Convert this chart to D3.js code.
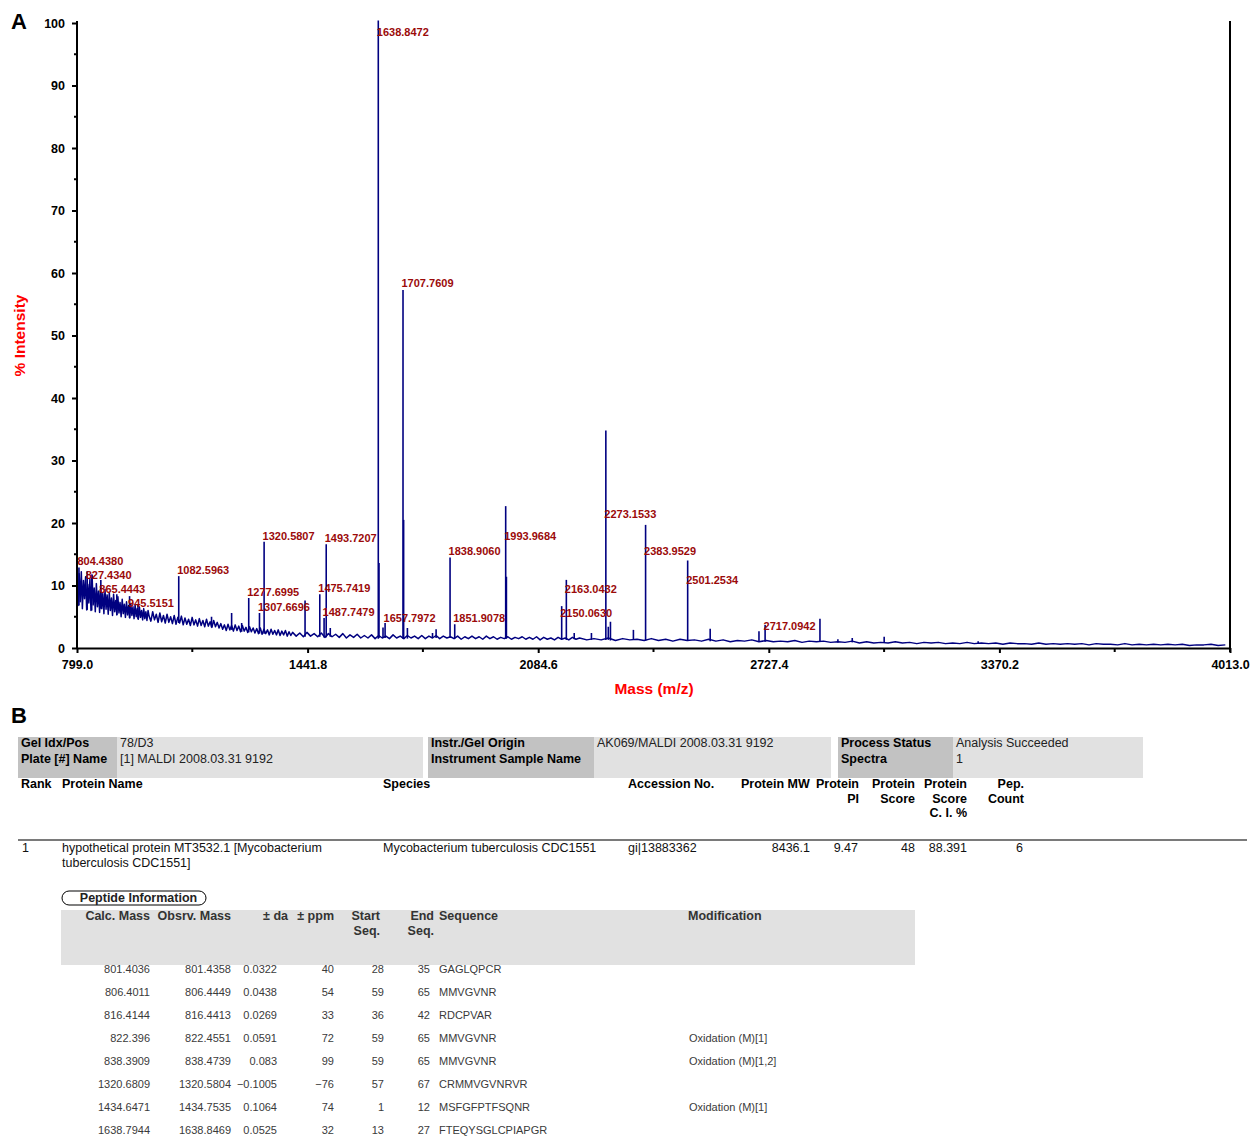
<!DOCTYPE html>
<html>
<head>
<meta charset="utf-8">
<script src="https://cdn.jsdelivr.net/npm/d3@7"></script>
<style>
  body { margin: 0; background: #fff; }
  svg text { font-family: "Liberation Sans", Arial, sans-serif; }
</style>
</head>
<body>
<div id="chart"></div>
<script>
// ---- spectrum: baseline samples (start mass, sampling step, % intensity) ----
const baseLowStart = 799, baseLowStep = 3;
const baseLow = [9.5, 6.8, 11.9, 7.4, 12.2, 6.3, 10.8, 7.9, 11.4, 6.1, 10.2, 7.2, 11.0, 6.0, 11.7, 6.9, 9.6, 5.8, 10.3, 6.6,
  9.1, 5.7, 10.0, 6.3, 8.7, 5.5, 9.4, 6.2, 8.5, 5.4, 8.9, 6.0, 8.0, 5.2, 8.6, 5.8, 7.6, 5.3, 8.2, 5.6,
  7.3, 5.0, 7.8, 5.5, 7.0, 4.9, 7.4, 5.3, 6.8, 4.8, 7.1, 5.2, 6.6, 4.7, 6.9, 5.0, 6.3, 4.6, 6.6, 4.9,
  6.0, 4.5, 6.3, 4.7, 5.8, 4.4, 6.0];
const baseMidStart = 1000, baseMidStep = 5;
const baseMid = [5.1, 4.3, 5.8, 4.5, 5.4, 4.1, 5.6, 4.2, 5.2, 4.0, 5.4, 4.1, 5.0, 3.9, 5.2, 3.8, 4.9, 4.0, 5.1, 3.7,
  4.8, 3.8, 4.6, 3.6, 4.9, 3.7, 4.5, 3.5, 4.7, 3.6, 4.4, 3.4, 4.6, 3.5, 4.2, 3.3, 4.4, 3.4, 4.1, 3.2,
  3.9, 3.0, 3.7, 2.8, 3.8, 2.9, 3.6, 2.7, 3.7, 2.8, 3.5, 2.6, 3.6, 2.7, 3.3, 2.5, 3.4, 2.6, 3.2, 2.4,
  3.1, 2.3, 3.2, 2.2, 3.0, 2.3, 2.9, 2.1, 3.0, 2.2, 2.8, 2.1, 2.9, 2.0, 2.7, 2.1, 2.8, 1.9, 2.6, 2.0];
const baseHighStart = 1400, baseHighStep = 10;
const baseHigh = [2.5, 1.9, 2.4, 1.8, 2.5, 1.9, 2.3, 1.8, 2.4, 1.7, 2.3, 1.8, 2.2, 1.7, 2.3, 1.6, 2.1, 1.7, 2.2, 1.6,
  2.0, 1.6, 2.1, 1.5, 2.0, 1.6, 1.9, 1.5, 2.1, 1.6, 1.9, 1.5, 2.0, 1.6, 1.9, 1.5, 2.0, 1.5, 1.9, 1.6,
  2.0, 1.5, 1.9, 1.6, 1.8, 1.5, 1.9, 1.4, 1.8, 1.5, 1.9, 1.5, 1.8, 1.4, 1.9, 1.5, 1.8, 1.4, 1.7, 1.5,
  1.8, 1.4, 1.7, 1.5, 1.8, 1.4, 1.7, 1.4, 1.8, 1.3, 1.7, 1.4, 1.6, 1.3, 1.7, 1.4, 1.6, 1.3, 1.7, 1.4];
const baseTailStart = 2200, baseTailStep = 20;
const baseTail = [1.6, 1.3, 1.5, 1.3, 1.6, 1.2, 1.5, 1.3, 1.4, 1.2, 1.5, 1.2, 1.4, 1.1, 1.4, 1.2, 1.3, 1.1, 1.4, 1.1,
  1.3, 1.0, 1.2, 1.1, 1.3, 1.0, 1.2, 1.0, 1.1, 1.0, 1.2, 0.9, 1.1, 1.0, 1.1, 0.9, 1.0, 0.9, 1.1, 0.8,
  1.0, 0.8, 0.9, 0.8, 1.0, 0.8, 0.9, 0.7, 0.9, 0.8, 0.9, 0.7, 0.8, 0.7, 0.9, 0.7, 0.8, 0.7, 0.8, 0.6,
  0.8, 0.7, 0.7, 0.6, 0.8, 0.6, 0.7, 0.6, 0.7, 0.6, 0.7, 0.5, 0.7, 0.6, 0.6, 0.5, 0.7, 0.5, 0.6, 0.5,
  0.6, 0.5, 0.6, 0.5, 0.6, 0.4, 0.5, 0.5, 0.6, 0.4, 0.5];

// labelled peaks: m/z, apex height (%), level where its label sits (%)
const labelMass = [804.4380, 827.4340, 865.4443, 945.5151, 1082.5963, 1277.6995, 1307.6696, 1320.5807,
  1475.7419, 1487.7479, 1493.7207, 1638.8472, 1657.7972, 1707.7609, 1838.9060, 1851.9078,
  1993.9684, 2150.0630, 2163.0432, 2273.1533, 2383.9529, 2501.2534, 2717.0942];
const labelHeight = [12.9, 12.3, 10.9, 8.3, 11.5, 8.0, 5.6, 17.0, 8.6, 4.8, 16.6, 100.4, 4.0, 57.3, 14.5, 3.8,
  22.7, 6.7, 10.9, 34.8, 19.7, 14.0, 3.7];
const labelLevel = [13.9, 11.7, 9.4, 7.2, 12.5, 9.0, 6.6, 17.9, 9.6, 5.8, 17.6, 98.6, 4.8, 58.4, 15.5, 4.8,
  17.9, 5.6, 9.4, 21.4, 15.5, 10.9, 3.5];

// unlabelled peaks
const minorMass = [840, 910, 969, 1174, 1230, 1258, 1434.7, 1505, 1640.8, 1652, 1709.5, 1720, 1790, 1800,
  1996, 2185, 2233, 2280, 2286, 2350, 2564, 2700, 2870, 2920, 2960, 3049, 3311];
const minorHeight = [11.7, 8.6, 7.0, 5.0, 5.6, 4.0, 7.6, 3.2, 13.6, 3.3, 20.5, 3.2, 2.4, 3.0,
  11.4, 2.4, 2.4, 3.4, 4.2, 2.9, 3.1, 2.7, 4.7, 1.4, 1.6, 1.8, 1.1];

const xTicks = [799.0, 1441.8, 2084.6, 2727.4, 3370.2, 4013.0];
const xMinorTicks = [1120.4, 1763.2, 2406.0, 3048.8, 3691.6];
const yTicks = [0, 10, 20, 30, 40, 50, 60, 70, 80, 90, 100];
const yMinorTicks = [5, 15, 25, 35, 45, 55, 65, 75, 85, 95];

// ---- panel B ----
const infoLabels = [['Gel Idx/Pos', 'Plate [#] Name'], ['Instr./Gel Origin', 'Instrument Sample Name'], ['Process Status', 'Spectra']];
const infoValues = [['78/D3', '[1] MALDI 2008.03.31 9192'], ['AK069/MALDI 2008.03.31 9192', ''], ['Analysis Succeeded', '1']];

const proteinHeaders = [['Rank'], ['Protein Name'], ['Species'], ['Accession No.'], ['Protein MW'],
  ['Protein', 'PI'], ['Protein', 'Score'], ['Protein', 'Score', 'C. I. %'], ['Pep.', 'Count']];
const proteinRow = [['1'], ['hypothetical protein MT3532.1 [Mycobacterium', 'tuberculosis CDC1551]'],
  ['Mycobacterium tuberculosis CDC1551'], ['gi|13883362'], ['8436.1'], ['9.47'], ['48'], ['88.391'], ['6']];

const peptideHeaders = [['Calc. Mass'], ['Obsrv. Mass'], ['\u00b1 da'], ['\u00b1 ppm'], ['Start', 'Seq.'], ['End', 'Seq.'], ['Sequence'], ['Modification']];
const calcMass = ['801.4036', '806.4011', '816.4144', '822.396', '838.3909', '1320.6809', '1434.6471', '1638.7944'];
const obsMass = ['801.4358', '806.4449', '816.4413', '822.4551', '838.4739', '1320.5804', '1434.7535', '1638.8469'];
const deltaDa = ['0.0322', '0.0438', '0.0269', '0.0591', '0.083', '\u22120.1005', '0.1064', '0.0525'];
const deltaPpm = ['40', '54', '33', '72', '99', '\u221276', '74', '32'];
const startSeq = ['28', '59', '36', '59', '59', '57', '1', '13'];
const endSeq = ['35', '65', '42', '65', '65', '67', '12', '27'];
const sequences = ['GAGLQPCR', 'MMVGVNR', 'RDCPVAR', 'MMVGVNR', 'MMVGVNR', 'CRMMVGVNRVR', 'MSFGFPTFSQNR', 'FTEQYSGLCPIAPGR'];
const modifications = ['', '', '', 'Oxidation (M)[1]', 'Oxidation (M)[1,2]', '', 'Oxidation (M)[1]', ''];

// ---- layout ----
const W = 1253, H = 1137;
const plot = { left: 77, right: 1230, top: 23, bottom: 648 };
const FONT_BOLD = 'bold';

const svg = d3.select('#chart').append('svg')
  .attr('width', W).attr('height', H);

const xScale = d3.scaleLinear().domain([799, 4013]).range([plot.left, plot.right]);
const yScale = d3.scaleLinear().domain([0, 100]).range([plot.bottom, plot.top]);

function segmentPoints(start, step, values) {
  return values.map((v, i) => [start + i * step, v]);
}

const baseline = [].concat(
  segmentPoints(baseLowStart, baseLowStep, baseLow),
  segmentPoints(baseMidStart, baseMidStep, baseMid),
  segmentPoints(baseHighStart, baseHighStep, baseHigh),
  segmentPoints(baseTailStart, baseTailStep, baseTail)
);
const bisect = d3.bisector(d => d[0]).left;
function baseAt(m) {
  const i = Math.min(baseline.length - 1, Math.max(0, bisect(baseline, m)));
  const a = baseline[Math.max(0, i - 1)], b = baseline[i];
  return Math.min(a[1], b[1]);
}

function drawPanelLetters() {
  svg.append('text').attr('x', 11).attr('y', 29).attr('font-size', 22).attr('font-weight', FONT_BOLD).text('A');
  svg.append('text').attr('x', 11).attr('y', 723).attr('font-size', 22).attr('font-weight', FONT_BOLD).text('B');
}

function drawSpectrum() {
  const g = svg.append('g').attr('class', 'spectrum');
  const line = d3.line().x(d => xScale(d[0])).y(d => yScale(d[1]));
  g.append('path').datum(baseline)
    .attr('d', line)
    .attr('fill', 'none')
    .attr('stroke', '#000080')
    .attr('stroke-width', 1.5)
    .attr('stroke-linejoin', 'round');

  const peaks = labelMass.map((m, i) => [m, labelHeight[i]])
    .concat(minorMass.map((m, i) => [m, minorHeight[i]]));
  g.selectAll('.peak').data(peaks).enter()
    .append('line')
      .attr('class', 'peak')
      .attr('x1', d => xScale(d[0]))
      .attr('x2', d => xScale(d[0]))
      .attr('y1', d => yScale(baseAt(d[0])))
      .attr('y2', d => yScale(d[1]))
      .attr('stroke', '#000080')
      .attr('stroke-width', 1.6);

  g.selectAll('.peak-label').data(labelMass).enter()
    .append('text')
      .attr('class', 'peak-label')
      .attr('x', d => xScale(d) - 1.5)
      .attr('y', (d, i) => yScale(labelLevel[i]))
      .attr('dy', '0.35em')
      .attr('font-size', 11)
      .attr('font-weight', FONT_BOLD)
      .attr('fill', '#9b0a0a')
      .text(d => d.toFixed(4));
}

function drawAxes() {
  const yAxis = svg.append('g')
    .attr('transform', `translate(${plot.left},0)`)
    .call(d3.axisLeft(yScale).tickValues(yTicks).tickSize(5).tickSizeOuter(0).tickPadding(7).tickFormat(d3.format('d')));
  const xAxis = svg.append('g')
    .attr('transform', `translate(0,${plot.bottom})`)
    .call(d3.axisBottom(xScale).tickValues(xTicks).tickSize(5).tickSizeOuter(0).tickPadding(7).tickFormat(d3.format('.1f')));

  [yAxis, xAxis].forEach(a => {
    a.select('.domain').attr('stroke', '#000').attr('stroke-width', 2);
    a.selectAll('.tick line').attr('stroke', '#000').attr('stroke-width', 2);
    a.selectAll('.tick text')
      .attr('font-size', 12.5).attr('font-weight', FONT_BOLD).attr('fill', '#000')
      .attr('font-family', '"Liberation Sans", Arial, sans-serif');
  });
  // y domain runs a touch above 100, x domain meets the y axis
  yAxis.select('.domain').attr('d', `M0,${plot.top - 2}V${plot.bottom + 1}`);

  yAxis.selectAll('.minor').data(yMinorTicks).enter()
    .append('line')
      .attr('x1', -3).attr('x2', 1)
      .attr('y1', d => yScale(d)).attr('y2', d => yScale(d))
      .attr('stroke', '#000').attr('stroke-width', 2);
  xAxis.selectAll('.minor').data(xMinorTicks).enter()
    .append('line')
      .attr('x1', d => xScale(d)).attr('x2', d => xScale(d))
      .attr('y1', 0).attr('y2', 4)
      .attr('stroke', '#000').attr('stroke-width', 2);

  // right frame edge
  svg.append('line')
    .attr('x1', plot.right).attr('x2', plot.right)
    .attr('y1', plot.top - 2).attr('y2', plot.bottom + 4)
    .attr('stroke', '#000').attr('stroke-width', 2);

  svg.append('text')
    .attr('transform', `translate(25,${(plot.top + plot.bottom) / 2}) rotate(-90)`)
    .attr('text-anchor', 'middle')
    .attr('font-size', 15.5).attr('font-weight', FONT_BOLD).attr('fill', '#ff0000')
    .text('% Intensity');
  svg.append('text')
    .attr('x', 654).attr('y', 694)
    .attr('text-anchor', 'middle')
    .attr('font-size', 15.5).attr('font-weight', FONT_BOLD).attr('fill', '#ff0000')
    .text('Mass (m/z)');
}

function multiLine(g, lines, x, y0, lh, anchor, opts) {
  lines.forEach((t, i) => {
    g.append('text')
      .attr('x', x).attr('y', y0 + i * lh).attr('dy', '0.35em')
      .attr('text-anchor', anchor)
      .attr('font-size', opts.size)
      .attr('font-weight', opts.weight || 'normal')
      .attr('fill', opts.color || '#000')
      .text(t);
  });
}

function drawInfoBoxes() {
  const g = svg.append('g').attr('class', 'info');
  const boxes = [
    { x: 18, w: 405, lw: 99 },
    { x: 428, w: 403, lw: 166 },
    { x: 838, w: 305, lw: 115 }
  ];
  boxes.forEach((b, i) => {
    g.append('rect').attr('x', b.x).attr('y', 737).attr('width', b.w).attr('height', 41).attr('fill', '#e1e1e1');
    g.append('rect').attr('x', b.x).attr('y', 737).attr('width', b.lw).attr('height', 41).attr('fill', '#c2c2c2');
    multiLine(g, infoLabels[i], b.x + 3, 743, 16, 'start', { size: 12.5, weight: FONT_BOLD });
    multiLine(g, infoValues[i], b.x + b.lw + 3, 743, 16, 'start', { size: 12.5, color: '#222' });
  });
}

function drawProteinTable() {
  const g = svg.append('g').attr('class', 'protein');
  const headCols = [
    { x: 21, a: 'start' }, { x: 62, a: 'start' }, { x: 383, a: 'start' }, { x: 628, a: 'start' },
    { x: 741, a: 'start' }, { x: 859, a: 'end' }, { x: 915, a: 'end' }, { x: 967, a: 'end' }, { x: 1024, a: 'end' }
  ];
  const rowCols = [
    { x: 22, a: 'start' }, { x: 62, a: 'start' }, { x: 383, a: 'start' }, { x: 628, a: 'start' },
    { x: 810, a: 'end' }, { x: 858, a: 'end' }, { x: 915, a: 'end' }, { x: 967, a: 'end' }, { x: 1023, a: 'end' }
  ];
  proteinHeaders.forEach((lines, i) => {
    multiLine(g, lines, headCols[i].x, 784, 14.5, headCols[i].a, { size: 12.5, weight: FONT_BOLD });
  });
  g.append('line').attr('x1', 18).attr('x2', 1247).attr('y1', 840).attr('y2', 840)
    .attr('stroke', '#7a7a7a').attr('stroke-width', 2);
  proteinRow.forEach((lines, i) => {
    multiLine(g, lines, rowCols[i].x, 848, 15, rowCols[i].a, { size: 12.5, color: '#111' });
  });
}

function drawPeptideTable() {
  const g = svg.append('g').attr('class', 'peptide');
  g.append('rect').attr('x', 61).attr('y', 910).attr('width', 854).attr('height', 55).attr('fill', '#e1e1e1');
  g.append('rect').attr('x', 62).attr('y', 891).attr('width', 144).attr('height', 14).attr('rx', 7)
    .attr('fill', '#fff').attr('stroke', '#000').attr('stroke-width', 1);
  g.append('text').attr('x', 138.5).attr('y', 898).attr('dy', '0.35em').attr('text-anchor', 'middle')
    .attr('font-size', 12.5).attr('font-weight', FONT_BOLD).attr('fill', '#222').text('Peptide Information');

  const headCols = [
    { x: 150, a: 'end' }, { x: 231, a: 'end' }, { x: 288, a: 'end' }, { x: 334, a: 'end' },
    { x: 380, a: 'end' }, { x: 434, a: 'end' }, { x: 439, a: 'start' }, { x: 688, a: 'start' }
  ];
  peptideHeaders.forEach((lines, i) => {
    multiLine(g, lines, headCols[i].x, 916, 15, headCols[i].a, { size: 12.5, weight: FONT_BOLD, color: '#333' });
  });

  const cols = [
    { vals: calcMass, x: 150, a: 'end' }, { vals: obsMass, x: 231, a: 'end' },
    { vals: deltaDa, x: 277, a: 'end' }, { vals: deltaPpm, x: 334, a: 'end' },
    { vals: startSeq, x: 384, a: 'end' }, { vals: endSeq, x: 430, a: 'end' },
    { vals: sequences, x: 439, a: 'start' }, { vals: modifications, x: 689, a: 'start' }
  ];
  const rowY = d3.scaleLinear().domain([0, 1]).range([969, 992]);
  cols.forEach(c => {
    g.selectAll(null).data(c.vals).enter()
      .append('text')
        .attr('x', c.x)
        .attr('y', (d, i) => rowY(i))
        .attr('dy', '0.35em')
        .attr('text-anchor', c.a)
        .attr('font-size', 11)
        .attr('fill', '#3a3a3a')
        .text(d => d);
  });
}

drawSpectrum();
drawAxes();
drawPanelLetters();
drawInfoBoxes();
drawProteinTable();
drawPeptideTable();
</script>
</body>
</html>
